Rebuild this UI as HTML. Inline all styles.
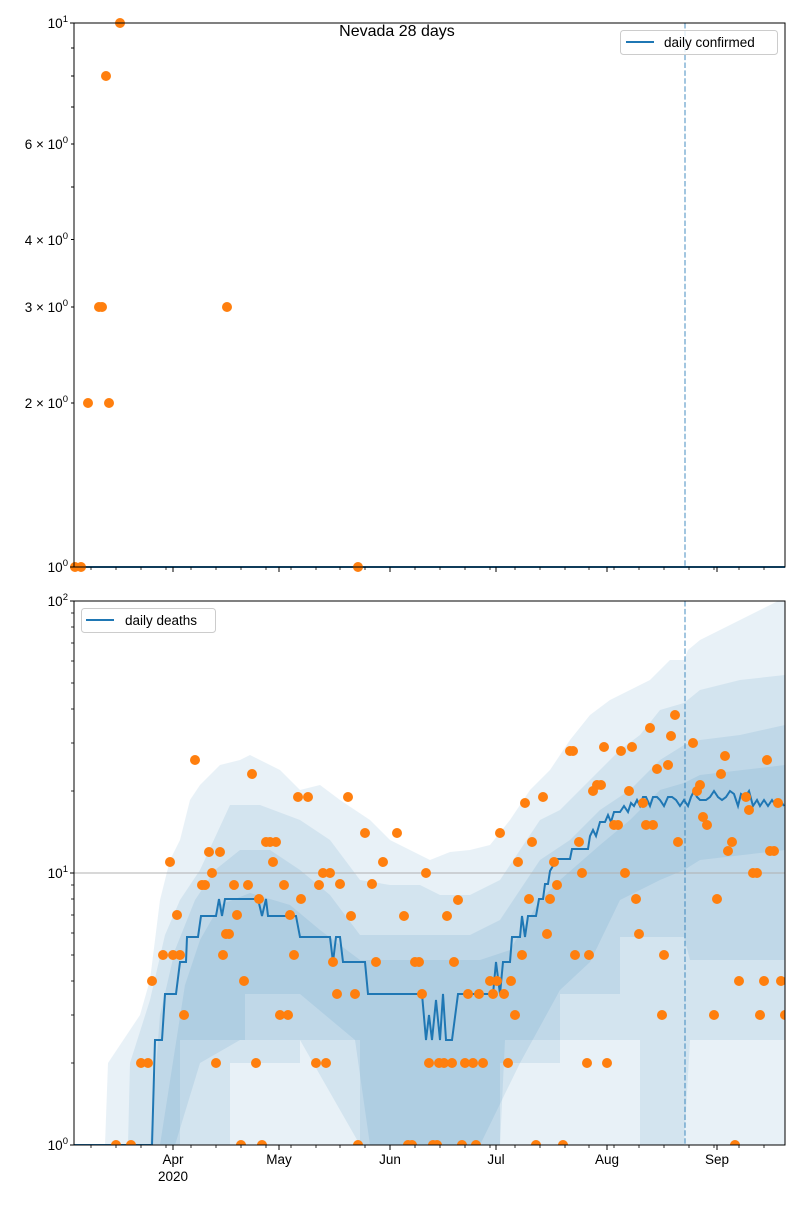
<!DOCTYPE html>
<html><head><meta charset="utf-8"><style>
body{margin:0;background:#fff}
svg text{font-family:"Liberation Sans","DejaVu Sans",sans-serif;font-size:13.5px;fill:#000}
</style></head><body>
<svg width="800" height="1200" viewBox="0 0 800 1200" xmlns="http://www.w3.org/2000/svg">
<rect width="800" height="1200" fill="#fff"/>
<text x="397" y="36" text-anchor="middle" style="font-size:16px">Nevada 28 days</text>

<!-- TOP PANEL -->
<g>
<line x1="685" y1="23" x2="685" y2="567" stroke="#1f77b4" stroke-opacity="0.55" stroke-width="1.5" stroke-dasharray="5.5,2.4"/>
<line x1="74" y1="567" x2="785" y2="567" stroke="#1f77b4" stroke-width="2"/>
<g fill="#ff7f0e">
<circle cx="75" cy="567" r="5"/><circle cx="81" cy="567" r="5"/><circle cx="88" cy="403" r="5"/>
<circle cx="99" cy="307" r="5"/><circle cx="102" cy="307" r="5"/><circle cx="106" cy="76" r="5"/>
<circle cx="109" cy="403" r="5"/><circle cx="120" cy="23" r="5"/><circle cx="227" cy="307" r="5"/>
<circle cx="358" cy="567" r="5"/>
</g>
<rect x="74" y="23" width="711" height="544" fill="none" stroke="#000" stroke-width="1"/>
<g stroke="#000" stroke-width="1">
<line x1="74" y1="23" x2="70" y2="23"/><line x1="74" y1="567" x2="70" y2="567"/>
<line x1="74" y1="403" x2="71" y2="403"/><line x1="74" y1="307" x2="71" y2="307"/>
<line x1="74" y1="239.5" x2="71" y2="239.5"/><line x1="74" y1="187" x2="71" y2="187"/>
<line x1="74" y1="144" x2="71" y2="144"/><line x1="74" y1="107" x2="71" y2="107"/>
<line x1="74" y1="76" x2="71" y2="76"/><line x1="74" y1="48" x2="71" y2="48"/>
</g>
<g text-anchor="end">
<text x="68" y="28">10<tspan dy="-6" style="font-size:9.5px">1</tspan></text>
<text x="68" y="149">6 × 10<tspan dy="-6" style="font-size:9.5px">0</tspan></text>
<text x="68" y="245">4 × 10<tspan dy="-6" style="font-size:9.5px">0</tspan></text>
<text x="68" y="312">3 × 10<tspan dy="-6" style="font-size:9.5px">0</tspan></text>
<text x="68" y="408">2 × 10<tspan dy="-6" style="font-size:9.5px">0</tspan></text>
<text x="68" y="572">10<tspan dy="-6" style="font-size:9.5px">0</tspan></text>
</g>
<g stroke="#000" stroke-width="1">
<line x1="173" y1="567" x2="173" y2="572"/><line x1="279" y1="567" x2="279" y2="572"/>
<line x1="390" y1="567" x2="390" y2="572"/><line x1="496" y1="567" x2="496" y2="572"/>
<line x1="607" y1="567" x2="607" y2="572"/><line x1="717" y1="567" x2="717" y2="572"/>
</g>
<g id="minTop" stroke="#000" stroke-width="0.8">
<line x1="91" y1="567" x2="91" y2="570"/><line x1="116" y1="567" x2="116" y2="570"/><line x1="141" y1="567" x2="141" y2="570"/><line x1="166" y1="567" x2="166" y2="570"/><line x1="191" y1="567" x2="191" y2="570"/><line x1="216" y1="567" x2="216" y2="570"/><line x1="241" y1="567" x2="241" y2="570"/><line x1="266" y1="567" x2="266" y2="570"/><line x1="291" y1="567" x2="291" y2="570"/><line x1="316" y1="567" x2="316" y2="570"/><line x1="340" y1="567" x2="340" y2="570"/><line x1="365" y1="567" x2="365" y2="570"/><line x1="390" y1="567" x2="390" y2="570"/><line x1="415" y1="567" x2="415" y2="570"/><line x1="440" y1="567" x2="440" y2="570"/><line x1="465" y1="567" x2="465" y2="570"/><line x1="490" y1="567" x2="490" y2="570"/><line x1="515" y1="567" x2="515" y2="570"/><line x1="540" y1="567" x2="540" y2="570"/><line x1="565" y1="567" x2="565" y2="570"/><line x1="589" y1="567" x2="589" y2="570"/><line x1="614" y1="567" x2="614" y2="570"/><line x1="639" y1="567" x2="639" y2="570"/><line x1="664" y1="567" x2="664" y2="570"/><line x1="689" y1="567" x2="689" y2="570"/><line x1="714" y1="567" x2="714" y2="570"/><line x1="739" y1="567" x2="739" y2="570"/><line x1="764" y1="567" x2="764" y2="570"/>
</g>
<rect x="620.5" y="30.5" width="157" height="24" rx="3" fill="#fff" fill-opacity="0.8" stroke="#ccc"/>
<line x1="626" y1="42" x2="654" y2="42" stroke="#1f77b4" stroke-width="2"/>
<text x="664" y="47">daily confirmed</text>
</g>

<!-- BOTTOM PANEL -->
<g>
<clipPath id="cb"><rect x="74" y="601" width="711" height="544"/></clipPath>
<g clip-path="url(#cb)" fill="#1f77b4">
<polygon fill-opacity="0.1" points="74,1145 105,1145 108,1063 140,1015 150,980 160,900 170,860 180,840 190,800 200,785 220,765 240,760 250,755 260,760 280,770 300,790 320,785 340,800 355,810 370,820 390,840 410,850 430,860 450,852 470,850 490,845 510,820 530,790 550,770 570,740 590,715 610,700 630,690 650,680 670,660 684,660 688,650 700,640 720,630 740,620 760,610 780,600 785,600 785,1145"/>
<polygon fill-opacity="0.1" points="128,1145 130,1063 150,1000 165,935 180,900 200,870 230,805 260,805 300,820 330,840 360,880 390,885 420,885 440,895 470,895 500,880 520,850 540,820 560,810 580,790 600,770 620,750 640,735 660,710 684,703 700,690 740,680 785,675 785,1040 690,1040 684,1145 640,1145 640,1040 550,1040 505,1040 500,1145 370,1145 355,1040 300,994 245,994 245,1040 180,1040 180,1145"/>
<polygon fill-opacity="0.1" points="150,1145 160,1015 175,950 195,900 215,870 240,850 270,850 300,870 330,895 360,935 400,935 440,935 470,935 500,920 520,890 540,860 570,840 600,810 630,790 660,760 684,745 700,740 740,735 785,725 785,960 690,960 684,937 620,937 620,994 560,994 560,1063 500,1063 500,1145 360,1145 360,1040 300,1040 300,1063 230,1063 230,1145"/>
<polygon fill-opacity="0.1" points="160,1145 185,985 200,940 220,905 250,893 290,905 320,930 360,960 420,960 480,960 510,950 540,900 560,880 600,845 630,820 660,790 684,783 700,775 785,765 785,850 700,860 684,870 660,880 620,900 590,962 560,990 520,1063 480,1145 360,1145 300,1040 240,1040 200,1063 175,1145"/>
</g>
<line x1="74" y1="873" x2="785" y2="873" stroke="#b0b0b0" stroke-width="1"/>
<line x1="685" y1="601" x2="685" y2="1145" stroke="#1f77b4" stroke-opacity="0.55" stroke-width="1.5" stroke-dasharray="5.5,2.4"/>
<polyline clip-path="url(#cb)" fill="none" stroke="#1f77b4" stroke-width="2" points="74,1145 152,1145 155,1040 162,1040 165,994 176,994 180,962 186,962 187,937 198,937 201,916 216,916 219,899 222,916 225,899 258,899 262,916 266,899 268,916 296,916 300,937 330,937 333,962 336,937 340,937 343,962 365,962 368,994 422,994 426,1040 429,1015 432,1040 436,1000 440,1040 443,994 446,1040 452,1040 458,994 493,994 496,962 500,994 503,962 510,962 512,937 520,937 522,916 525,937 528,916 536,916 539,899 543,899 545,884 548,884 550,871 557,859 570,859 572,849 585,849 588,849 590,836 593,830 596,836 600,822 605,822 608,815 611,822 614,812 620,812 624,806 628,812 631,803 634,806 637,800 640,806 643,797 646,797 650,806 653,797 657,797 660,800 664,806 668,797 672,797 676,800 680,806 684,800 688,806 691,797 694,791 697,797 700,800 706,800 710,797 714,791 718,797 722,800 726,797 730,791 734,794 738,806 741,794 745,797 749,791 753,806 757,800 760,806 764,800 768,806 772,800 776,806 780,800 784,806"/>
<g fill="#ff7f0e" clip-path="url(#cb)">
<circle cx="116" cy="1145" r="5"/><circle cx="131" cy="1145" r="5"/><circle cx="141" cy="1063" r="5"/><circle cx="148" cy="1063" r="5"/><circle cx="152" cy="981" r="5"/><circle cx="163" cy="955" r="5"/><circle cx="170" cy="862" r="5"/><circle cx="173" cy="955" r="5"/><circle cx="177" cy="915" r="5"/><circle cx="180" cy="955" r="5"/><circle cx="184" cy="1015" r="5"/><circle cx="195" cy="760" r="5"/><circle cx="202" cy="885" r="5"/><circle cx="205" cy="885" r="5"/><circle cx="209" cy="852" r="5"/><circle cx="212" cy="873" r="5"/><circle cx="216" cy="1063" r="5"/><circle cx="220" cy="852" r="5"/><circle cx="223" cy="955" r="5"/><circle cx="226" cy="934" r="5"/><circle cx="229" cy="934" r="5"/><circle cx="234" cy="885" r="5"/><circle cx="237" cy="915" r="5"/><circle cx="241" cy="1145" r="5"/><circle cx="244" cy="981" r="5"/><circle cx="248" cy="885" r="5"/><circle cx="252" cy="774" r="5"/><circle cx="256" cy="1063" r="5"/><circle cx="259" cy="899" r="5"/><circle cx="262" cy="1145" r="5"/><circle cx="266" cy="842" r="5"/><circle cx="270" cy="842" r="5"/><circle cx="273" cy="862" r="5"/><circle cx="276" cy="842" r="5"/><circle cx="280" cy="1015" r="5"/><circle cx="284" cy="885" r="5"/><circle cx="288" cy="1015" r="5"/><circle cx="290" cy="915" r="5"/><circle cx="294" cy="955" r="5"/><circle cx="298" cy="797" r="5"/><circle cx="301" cy="899" r="5"/><circle cx="308" cy="797" r="5"/>
<circle cx="316" cy="1063" r="5"/><circle cx="319" cy="885" r="5"/><circle cx="323" cy="873" r="5"/><circle cx="326" cy="1063" r="5"/><circle cx="330" cy="873" r="5"/><circle cx="333" cy="962" r="5"/><circle cx="337" cy="994" r="5"/><circle cx="340" cy="884" r="5"/><circle cx="348" cy="797" r="5"/><circle cx="351" cy="916" r="5"/><circle cx="355" cy="994" r="5"/><circle cx="358" cy="1145" r="5"/><circle cx="365" cy="833" r="5"/><circle cx="372" cy="884" r="5"/><circle cx="376" cy="962" r="5"/><circle cx="383" cy="862" r="5"/><circle cx="397" cy="833" r="5"/><circle cx="404" cy="916" r="5"/><circle cx="408" cy="1145" r="5"/><circle cx="412" cy="1145" r="5"/><circle cx="415" cy="962" r="5"/><circle cx="419" cy="962" r="5"/><circle cx="422" cy="994" r="5"/><circle cx="426" cy="873" r="5"/><circle cx="429" cy="1063" r="5"/><circle cx="433" cy="1145" r="5"/><circle cx="437" cy="1145" r="5"/><circle cx="439" cy="1063" r="5"/><circle cx="444" cy="1063" r="5"/><circle cx="447" cy="916" r="5"/><circle cx="452" cy="1063" r="5"/><circle cx="454" cy="962" r="5"/><circle cx="458" cy="900" r="5"/><circle cx="462" cy="1145" r="5"/><circle cx="465" cy="1063" r="5"/><circle cx="468" cy="994" r="5"/><circle cx="473" cy="1063" r="5"/><circle cx="476" cy="1145" r="5"/><circle cx="479" cy="994" r="5"/><circle cx="483" cy="1063" r="5"/><circle cx="490" cy="981" r="5"/><circle cx="497" cy="981" r="5"/><circle cx="493" cy="994" r="5"/><circle cx="500" cy="833" r="5"/><circle cx="504" cy="994" r="5"/><circle cx="508" cy="1063" r="5"/><circle cx="511" cy="981" r="5"/><circle cx="515" cy="1015" r="5"/><circle cx="518" cy="862" r="5"/><circle cx="522" cy="955" r="5"/><circle cx="525" cy="803" r="5"/><circle cx="529" cy="899" r="5"/><circle cx="532" cy="842" r="5"/><circle cx="536" cy="1145" r="5"/><circle cx="543" cy="797" r="5"/><circle cx="547" cy="934" r="5"/><circle cx="550" cy="899" r="5"/><circle cx="554" cy="862" r="5"/><circle cx="557" cy="885" r="5"/>
<circle cx="563" cy="1145" r="5"/><circle cx="570" cy="751" r="5"/><circle cx="573" cy="751" r="5"/><circle cx="575" cy="955" r="5"/><circle cx="579" cy="842" r="5"/><circle cx="582" cy="873" r="5"/><circle cx="587" cy="1063" r="5"/><circle cx="589" cy="955" r="5"/><circle cx="593" cy="791" r="5"/><circle cx="597" cy="785" r="5"/><circle cx="601" cy="785" r="5"/><circle cx="604" cy="747" r="5"/><circle cx="607" cy="1063" r="5"/><circle cx="614" cy="825" r="5"/><circle cx="618" cy="825" r="5"/><circle cx="621" cy="751" r="5"/><circle cx="625" cy="873" r="5"/><circle cx="629" cy="791" r="5"/><circle cx="632" cy="747" r="5"/><circle cx="636" cy="899" r="5"/><circle cx="639" cy="934" r="5"/><circle cx="643" cy="803" r="5"/><circle cx="646" cy="825" r="5"/><circle cx="653" cy="825" r="5"/><circle cx="650" cy="728" r="5"/><circle cx="657" cy="769" r="5"/><circle cx="662" cy="1015" r="5"/><circle cx="664" cy="955" r="5"/><circle cx="668" cy="765" r="5"/><circle cx="671" cy="736" r="5"/><circle cx="675" cy="715" r="5"/><circle cx="678" cy="842" r="5"/><circle cx="693" cy="743" r="5"/><circle cx="697" cy="791" r="5"/><circle cx="700" cy="785" r="5"/><circle cx="703" cy="817" r="5"/><circle cx="707" cy="825" r="5"/><circle cx="714" cy="1015" r="5"/><circle cx="717" cy="899" r="5"/><circle cx="721" cy="774" r="5"/><circle cx="725" cy="756" r="5"/><circle cx="728" cy="851" r="5"/><circle cx="732" cy="842" r="5"/><circle cx="735" cy="1145" r="5"/><circle cx="739" cy="981" r="5"/><circle cx="746" cy="797" r="5"/><circle cx="749" cy="810" r="5"/><circle cx="753" cy="873" r="5"/><circle cx="757" cy="873" r="5"/><circle cx="760" cy="1015" r="5"/><circle cx="764" cy="981" r="5"/><circle cx="767" cy="760" r="5"/><circle cx="770" cy="851" r="5"/><circle cx="774" cy="851" r="5"/><circle cx="778" cy="803" r="5"/><circle cx="781" cy="981" r="5"/><circle cx="785" cy="1015" r="5"/>
</g>
<rect x="74" y="601" width="711" height="544" fill="none" stroke="#000" stroke-width="1"/>
<g stroke="#000" stroke-width="1">
<line x1="74" y1="601" x2="70" y2="601"/><line x1="74" y1="873" x2="70" y2="873"/><line x1="74" y1="1145" x2="70" y2="1145"/>
</g>
<g stroke="#000" stroke-width="0.8">
<line x1="74" y1="1063" x2="71" y2="1063"/><line x1="74" y1="1015" x2="71" y2="1015"/><line x1="74" y1="981" x2="71" y2="981"/><line x1="74" y1="955" x2="71" y2="955"/><line x1="74" y1="933" x2="71" y2="933"/><line x1="74" y1="915" x2="71" y2="915"/><line x1="74" y1="899" x2="71" y2="899"/><line x1="74" y1="885" x2="71" y2="885"/>
<line x1="74" y1="791" x2="71" y2="791"/><line x1="74" y1="743" x2="71" y2="743"/><line x1="74" y1="709" x2="71" y2="709"/><line x1="74" y1="683" x2="71" y2="683"/><line x1="74" y1="661" x2="71" y2="661"/><line x1="74" y1="643" x2="71" y2="643"/><line x1="74" y1="627" x2="71" y2="627"/><line x1="74" y1="613" x2="71" y2="613"/>
</g>
<g text-anchor="end">
<text x="68" y="606">10<tspan dy="-6" style="font-size:9.5px">2</tspan></text>
<text x="68" y="878">10<tspan dy="-6" style="font-size:9.5px">1</tspan></text>
<text x="68" y="1150">10<tspan dy="-6" style="font-size:9.5px">0</tspan></text>
</g>
<g stroke="#000" stroke-width="1">
<line x1="173" y1="1145" x2="173" y2="1150"/><line x1="279" y1="1145" x2="279" y2="1150"/>
<line x1="390" y1="1145" x2="390" y2="1150"/><line x1="496" y1="1145" x2="496" y2="1150"/>
<line x1="607" y1="1145" x2="607" y2="1150"/><line x1="717" y1="1145" x2="717" y2="1150"/>
</g>
<use href="#minTop" transform="translate(0,578)"/>
<g text-anchor="middle">
<text x="173" y="1164">Apr</text><text x="173" y="1181">2020</text>
<text x="279" y="1164">May</text><text x="390" y="1164">Jun</text>
<text x="496" y="1164">Jul</text><text x="607" y="1164">Aug</text><text x="717" y="1164">Sep</text>
</g>
<rect x="81.5" y="608.5" width="134" height="24" rx="3" fill="#fff" fill-opacity="0.8" stroke="#ccc"/>
<line x1="86" y1="620" x2="114" y2="620" stroke="#1f77b4" stroke-width="2"/>
<text x="125" y="625">daily deaths</text>
</g>
</svg>
</body></html>
